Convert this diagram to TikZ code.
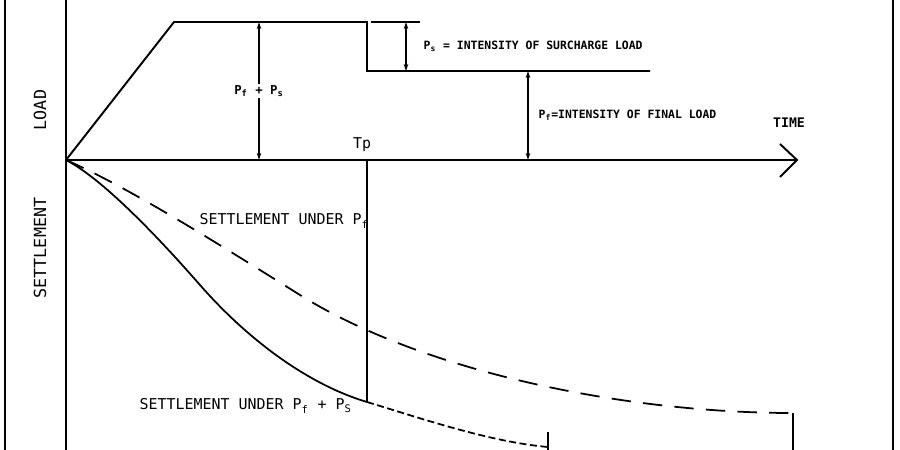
\documentclass[tikz,border=0pt]{standalone}
\usepackage{fontspec}
\newfontfamily\plotfont{DejaVu Sans Mono}
\usetikzlibrary{arrows.meta}

\begin{document}
\begin{tikzpicture}[x=0.02cm, y=-0.02cm, line width=1.1pt,
		dimline/.style={line width=0.9pt, {Stealth[length=4pt,width=2.6pt]}-{Stealth[length=4pt,width=2.6pt]}},
		lbl/.style={font=\plotfont\bfseries\fontsize{6.5}{7}\selectfont, inner sep=1pt},
		txt/.style={font=\plotfont\fontsize{8.5}{10}\selectfont, inner sep=1pt}]
		\useasboundingbox (0,0) rectangle (900,450);
	
		% frame and axes
		\draw (5,0) -- (5,450);
		\draw (893,0) -- (893,450);
		\draw (66,0) -- (66,450);
		\coordinate (O) at (66,160);
		\coordinate (tip) at (797,160);
		\draw (O) -- (tip);
		\draw (780,144) -- (tip) -- (780,177);
	
		% load diagram
		\coordinate (ramp) at (174,22);
		\coordinate (top) at (367,22);
		\coordinate (step) at (367,71);
		\coordinate (flat) at (650,71);
		\draw (O) -- (ramp) -- (top) -- (step) -- (flat);
		\draw (371,22) -- (420,22);
	
		\draw[dimline] (259,22) -- (259,160) node[midway, fill=white, lbl, font=\plotfont\bfseries\fontsize{7}{8}\selectfont] (pfps) {P\textsubscript{f} + P\textsubscript{s}};
		\draw[dimline, line width=0.6pt] (406,22) -- (406,71);
		\draw[dimline] (528,71) -- (528,160);
	
		\node[lbl, anchor=west] (ps) at (421,46) {P\textsubscript{s} = INTENSITY OF SURCHARGE LOAD};
		\node[lbl, anchor=west] (pf) at (536,115) {P\textsubscript{f}=INTENSITY OF FINAL LOAD};
		\node[lbl, font=\plotfont\bfseries\fontsize{7.5}{8}\selectfont] (time) at (789,123) {TIME};
		\node[txt] (tp) at (362,145) {Tp};
	
		% settlement curves
		\coordinate (tpend) at (367,402);
		\coordinate (sfend) at (548,447);
		\coordinate (pfend) at (793,413);
		\draw[line width=0.8pt] (367,160) -- (tpend);
		\draw[line width=1pt, dash pattern=on 11pt off 7pt] (O) .. controls (130,188) and (220,245) .. (300,295)
			.. controls (420,370) and (620,413) .. (pfend);
		\draw[line width=1pt] (O) .. controls (105,180) and (165,245) .. (200,285)
			.. controls (250,342) and (310,385) .. (tpend);
		\draw[line width=1pt, dash pattern=on 4pt off 2pt] (tpend) .. controls (420,418) and (490,442) .. (sfend);
		\draw (548,432) -- (548,450);
		\draw (pfend) -- (793,450);
	
		\node[txt, anchor=west] (spf) at (197,221) {SETTLEMENT UNDER P\textsubscript{f}};
		\node[txt, anchor=west] (spfps) at (137,406) {SETTLEMENT UNDER P\textsubscript{f} + P\textsubscript{S}};
	
		% axis titles
		\node[txt, font=\plotfont\fontsize{9.5}{11}\selectfont, rotate=90] (load) at (40,110) {LOAD};
		\node[txt, font=\plotfont\fontsize{9.5}{11}\selectfont, rotate=90] (settle) at (40,248) {SETTLEMENT};
	\end{tikzpicture}
\end{document}
